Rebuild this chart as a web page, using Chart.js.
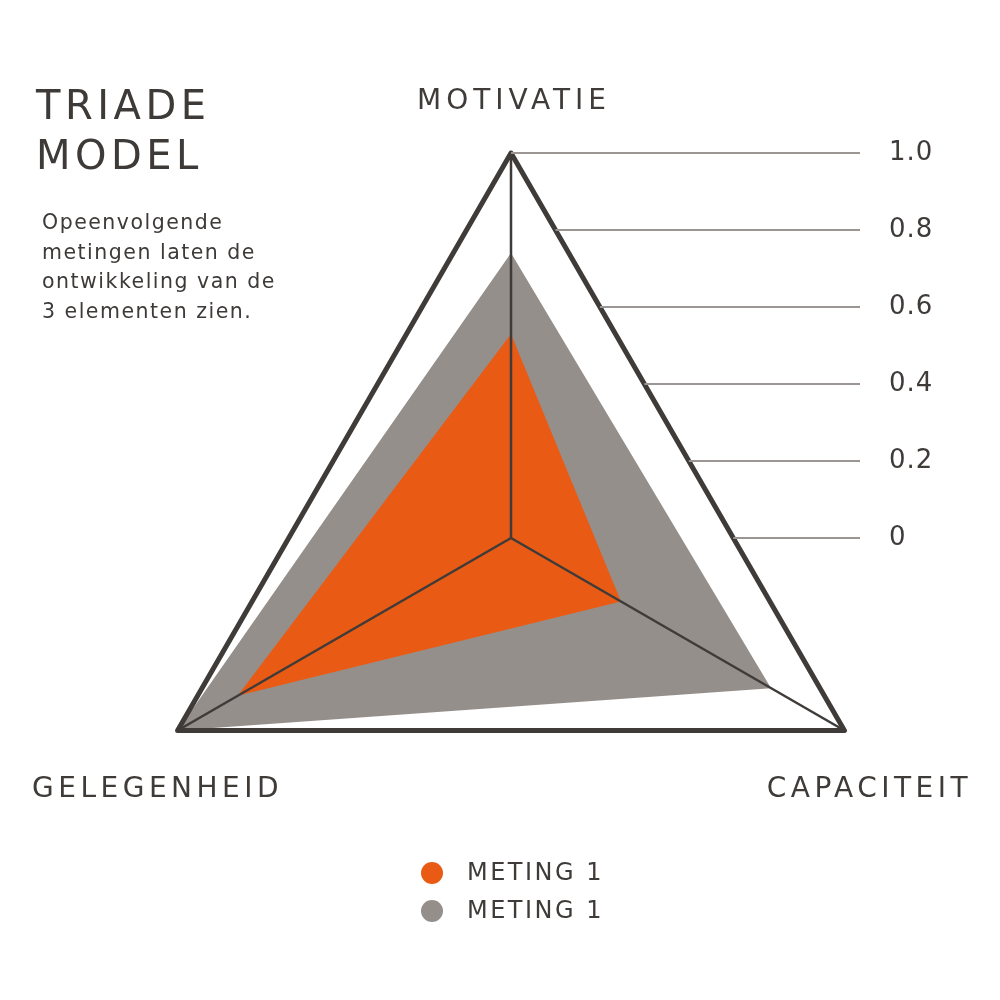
<!DOCTYPE html>
<html>
<head>
<meta charset="utf-8">
<script src="https://cdn.jsdelivr.net/npm/chart.js@4.4.1/dist/chart.umd.min.js"></script>
<style>
  html, body { margin:0; padding:0; background:#ffffff; }
  #wrap { position:relative; width:1000px; height:1000px; }
  #title { position:absolute; left:36px; top:80px; font-family:"DejaVu Sans"; font-size:40px; line-height:50px; letter-spacing:4.5px; color:#3d3a38; }
  #desc { position:absolute; left:42px; top:208px; font-family:"DejaVu Sans"; font-size:20.5px; line-height:29.5px; letter-spacing:1.5px; color:#3d3a38; }
</style>
</head>
<body>
<div id="wrap">
  <canvas id="triade_graph" width="1000" height="1000"></canvas>
  <div id="title">TRIADE<br>MODEL</div>
  <div id="desc">Opeenvolgende<br>metingen laten de<br>ontwikkeling van de<br>3 elementen zien.</div>
</div>
<script>

let labels=['MOTIVATIE','CAPACITEIT','GELEGENHEID'];
let meting_a=[0.53,0.33,0.82];
let meting_b=[0.74,0.78,1.0];
let legend_names=['METING 1','METING 1'];
let tick_values=[0,0.2,0.4,0.6,0.8,1.0];
let tick_labels=['0','0.2','0.4','0.6','0.8','1.0'];

const dark='#3f3b39';
const orange='#e95b14';
const grey='#958f8c';

// labels, tick lines and legend drawn on the canvas
const triade_plugin={
  id:'triade',
  beforeDraw(chart){
    chart.ctx.lineJoin='round';
  },
  afterDraw(chart){
    const ctx=chart.ctx;
    const scale=chart.scales.r;
    const top=scale.getPointPosition(0,scale.drawingArea);
    const right=scale.getPointPosition(1,scale.drawingArea);
    ctx.save();
    ctx.fillStyle=dark;
    ctx.textBaseline='middle';

    // tick lines at the right
    ctx.font='26px "DejaVu Sans"';
    ctx.letterSpacing='1px';
    for(let i=0;i<tick_values.length;i++){
      const y=scale.yCenter-scale.getDistanceFromCenterForValue(tick_values[i]);
      const t=(y-top.y)/(right.y-top.y);
      const x0=top.x+(right.x-top.x)*t;
      ctx.strokeStyle='#9b9593';
      ctx.lineWidth=2;
      ctx.beginPath();
      ctx.moveTo(x0,y);
      ctx.lineTo(860,y);
      ctx.stroke();
      ctx.textAlign='left';
      ctx.fillText(tick_labels[i],889,y);
    }

    // axis labels
    ctx.font='28px "DejaVu Sans"';
    ctx.textAlign='center';
    const p0=scale.getPointPosition(0,scale.drawingArea);
    const p1=scale.getPointPosition(1,scale.drawingArea);
    const p2=scale.getPointPosition(2,scale.drawingArea);
    ctx.letterSpacing='5px';
    ctx.fillText(labels[0],p0.x+3,102);
    ctx.letterSpacing='4.5px';
    ctx.fillText(labels[1],p1.x+25,790);
    ctx.fillText(labels[2],p2.x-20,790);

    // legend
    ctx.font='24px "DejaVu Sans"';
    ctx.letterSpacing='2.5px';
    ctx.textAlign='left';
    const cols=[orange,grey];
    for(let i=0;i<legend_names.length;i++){
      const y=873+i*38;
      ctx.fillStyle=cols[i];
      ctx.beginPath();
      ctx.arc(432,y,11,0,Math.PI*2);
      ctx.fill();
      ctx.fillStyle=dark;
      ctx.fillText(legend_names[i],467,y+1);
    }
    ctx.restore();
  }
};

const graph1=document.getElementById('triade_graph').getContext('2d');

new Chart(graph1,{
  type:'radar',
  data:{
    labels:labels,
    datasets:[{
      label:legend_names[0],
      data:meting_a,
      backgroundColor:orange,
      borderWidth:0,
      pointRadius:0,
      fill:true
    },{
      label:legend_names[1],
      data:meting_b,
      backgroundColor:grey,
      borderWidth:0,
      pointRadius:0,
      fill:true
    }]
  },
  options:{
    responsive:false,
    animation:false,
    layout:{
      padding:{left:126,right:104,top:153,bottom:77}
    },
    plugins:{
      legend:{display:false},
      tooltip:{enabled:false}
    },
    scales:{
      r:{
        min:0,
        max:1,
        afterBuildTicks(scale){
          scale.ticks=tick_values.map(v=>({value:v}));
        },
        ticks:{display:false},
        pointLabels:{display:false},
        grid:{
          z:1,
          lineWidth:5,
          color(ctx){
            return ctx.tick && ctx.tick.value===1 ? dark : 'rgba(0,0,0,0)';
          }
        },
        angleLines:{
          color:dark,
          lineWidth:2.5
        }
      }
    }
  },
  plugins:[triade_plugin]
});

</script>
</body>
</html>
